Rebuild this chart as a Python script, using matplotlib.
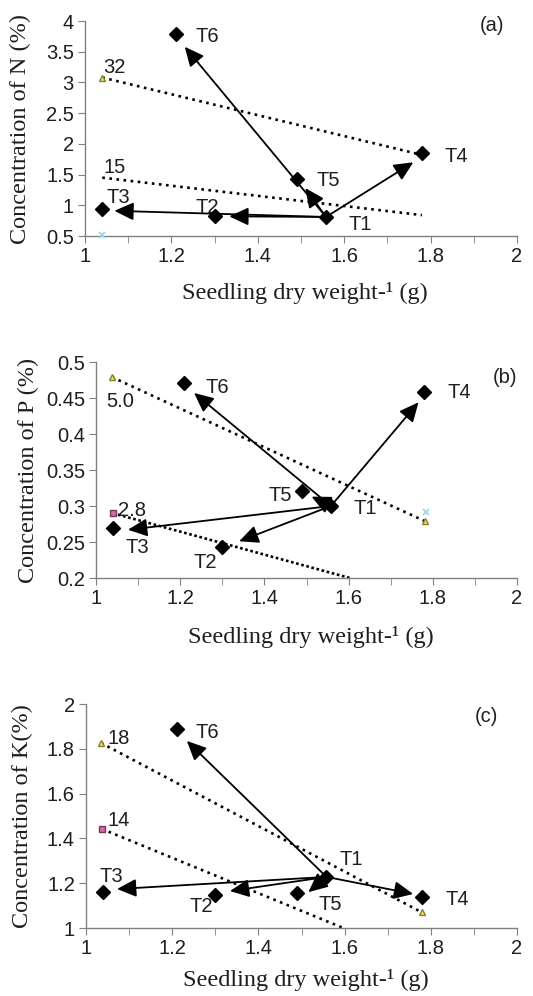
import matplotlib
matplotlib.use("Agg")
from matplotlib import pyplot as plt

# treatments (same order in every panel)
names = ["T1", "T2", "T3", "T4", "T5", "T6"]
dry_wt = [1.558, 1.30, 1.04, 1.78, 1.49, 1.21]

# concentrations
conc_n = [0.81, 0.82, 0.94, 1.85, 1.43, 3.79]
conc_p = [0.300, 0.243, 0.269, 0.458, 0.321, 0.471]
conc_k = [1.228, 1.147, 1.161, 1.140, 1.156, 1.888]

# where the arrow heads from T1 stop (x, y), order T2, T3, T4, T5, T6
heads_n = [(1.334, 0.82), (1.068, 0.91), (1.76, 1.70), (1.51, 1.28), (1.231, 3.58)]
heads_p = [(1.34, 0.251), (1.076, 0.267), (1.766, 0.444), (1.512, 0.313), (1.233, 0.457)]
heads_k = [(1.334, 1.165), (1.072, 1.174), (1.759, 1.152), (1.516, 1.16), (1.234, 1.835)]

# reference (dotted) lines: x0, y0, x1, y1
ref_n = [(1.04, 3.08, 1.78, 1.82), (1.04, 1.45, 1.78, 0.84)]
ref_p = [(1.038, 0.479, 1.781, 0.279), (1.04, 0.290, 1.603, 0.200)]
ref_k = [(1.035, 1.826, 1.779, 1.07), (1.037, 1.442, 1.597, 1.00)]
ref_txt_n = ["32", "15"]
ref_txt_p = ["5.0", "2.8"]
ref_txt_k = ["18", "14"]
ref_pos_n = [(1.042, 3.25), (1.042, 1.62)]
ref_pos_p = [(1.025, 0.445), (1.053, 0.294)]
ref_pos_k = [(1.051, 1.848), (1.051, 1.482)]

# label positions for T1..T6 (left edge, centre) in data units
lab_n = [(1.609, 0.68), (1.255, 0.97), (1.049, 1.13), (1.833, 1.80), (1.537, 1.41), (1.255, 3.74)]
lab_p = [(1.611, 0.297), (1.231, 0.221), (1.069, 0.242), (1.834, 0.457), (1.409, 0.314), (1.259, 0.465)]
lab_k = [(1.589, 1.304), (1.241, 1.098), (1.032, 1.228), (1.833, 1.129), (1.539, 1.103), (1.253, 1.875)]

sans = "Liberation Sans"
serif = "Liberation Serif"
tc = "#1e1e1e"
fs = 14.5

fig = plt.figure(figsize=(5.33, 9.96), dpi=100)

def panel(rect, ys, heads, refs, reftxt, reftxt_pos, labs, ylim, yticks, ylabel, tag, tagpos,
          xlab_y, ylab_x, extra, dense2):
    ax = fig.add_axes(rect)
    ax.set_xlim(1, 2)
    ax.set_ylim(*ylim)
    for s in ["top", "right"]:
        ax.spines[s].set_visible(False)
    for s in ["left", "bottom"]:
        ax.spines[s].set_color("#808080")
        ax.spines[s].set_linewidth(1.0)
    ax.set_xticks([1, 1.2, 1.4, 1.6, 1.8, 2])
    ax.set_xticklabels(["1", "1.2", "1.4", "1.6", "1.8", "2"])
    ax.set_xticks([1.1, 1.3, 1.5, 1.7, 1.9], minor=True)
    ax.set_yticks(yticks)
    ax.set_yticklabels(["%g" % v for v in yticks])
    ax.tick_params(axis="both", which="both", direction="out", length=5, color="#808080",
                   labelsize=fs, labelcolor=tc, pad=3)
    for t in ax.get_xticklabels() + ax.get_yticklabels():
        t.set_fontfamily(sans)
    ax.set_xlabel("Seedling dry weight-\u00b9 (g)", family=serif, fontsize=17.5, color=tc)
    ax.xaxis.set_label_coords(0.51, xlab_y)
    ax.xaxis.label.set_va("center")
    ax.set_ylabel(ylabel, family=serif, fontsize=17.5, color=tc)
    ax.yaxis.set_label_coords(ylab_x, 0.5)
    ax.yaxis.label.set_va("center")

    # dotted reference lines
    for i, (x0, y0, x1, y1) in enumerate(refs):
        dash = (1, 1.0) if (i == 1 and dense2) else (1, 1.7)
        ax.plot([x0, x1], [y0, y1], color="black", lw=1.9, dashes=dash, zorder=2)
        ax.text(reftxt_pos[i][0], reftxt_pos[i][1], reftxt[i], family=sans, fontsize=fs,
                color=tc, ha="left", va="center")
    extra(ax)

    # arrows from T1
    for hx, hy in heads:
        ax.annotate("", xy=(hx, hy), xytext=(dry_wt[0], ys[0]),
                    arrowprops=dict(arrowstyle="-|>,head_length=0.9,head_width=0.42",
                                    mutation_scale=13, color="black", lw=1.3,
                                    shrinkA=0, shrinkB=0), zorder=3)
    ax.plot(dry_wt, ys, "D", color="black", markersize=7.5, zorder=4)
    for nm, (lx, ly) in zip(names, labs):
        ax.text(lx, ly, nm, family=sans, fontsize=fs, color=tc, ha="left", va="center")
    ax.text(tagpos[0], tagpos[1], tag, family=sans, fontsize=fs, color=tc, ha="left", va="center")
    return ax

def extra_n(ax):
    ax.plot([ref_n[0][0]], [ref_n[0][1]], "^", color="#e8e060", mec="#8a8030", ms=4, zorder=3)
    ax.plot([1.04], [0.52], "x", color="#90d8e8", ms=5, mew=1.2, clip_on=False, zorder=3)

def extra_p(ax):
    ax.plot([ref_p[0][0], ref_p[0][2]], [ref_p[0][1], ref_p[0][3]], "^", color="#e8e060",
            mec="#8a8030", ms=4, zorder=3)
    ax.plot([1.783], [0.292], "x", color="#90d8e8", ms=5, mew=1.2, zorder=3)
    ax.plot([ref_p[1][0]], [ref_p[1][1]], "s", color="#d070a0", mec="#803060", ms=4.5, zorder=3)

def extra_k(ax):
    ax.plot([ref_k[0][0], ref_k[0][2]], [ref_k[0][1], ref_k[0][3]], "^", color="#e8e060",
            mec="#8a8030", ms=4, zorder=3)
    ax.plot([ref_k[1][0]], [ref_k[1][1]], "s", color="#d070a0", mec="#803060", ms=4.5, zorder=3)

panel([85 / 533, 1 - 236 / 996, 432 / 533, 215 / 996], conc_n, heads_n, ref_n, ref_txt_n,
      ref_pos_n, lab_n, (0.5, 4), [0.5, 1, 1.5, 2, 2.5, 3, 3.5, 4],
      "Concentration of N (%)", "(a)", (1.914, 3.93), -57 / 215, -65 / 432, extra_n, False)

panel([96 / 533, 1 - 578 / 996, 421 / 533, 216 / 996], conc_p, heads_p, ref_p, ref_txt_p,
      ref_pos_p, lab_p, (0.2, 0.5), [0.2, 0.25, 0.3, 0.35, 0.4, 0.45, 0.5],
      "Concentration of P (%)", "(b)", (1.942, 0.478), -59 / 216, -68 / 421, extra_p, True)

panel([86 / 533, 1 - 928 / 996, 431 / 533, 224 / 996], conc_k, heads_k, ref_k, ref_txt_k,
      ref_pos_k, lab_k, (1, 2), [1, 1.2, 1.4, 1.6, 1.8, 2],
      "Concentration of K(%)", "(c)", (1.903, 1.942), -52 / 224, -64 / 431, extra_k, False)

fig.savefig("out.png", dpi=100)
